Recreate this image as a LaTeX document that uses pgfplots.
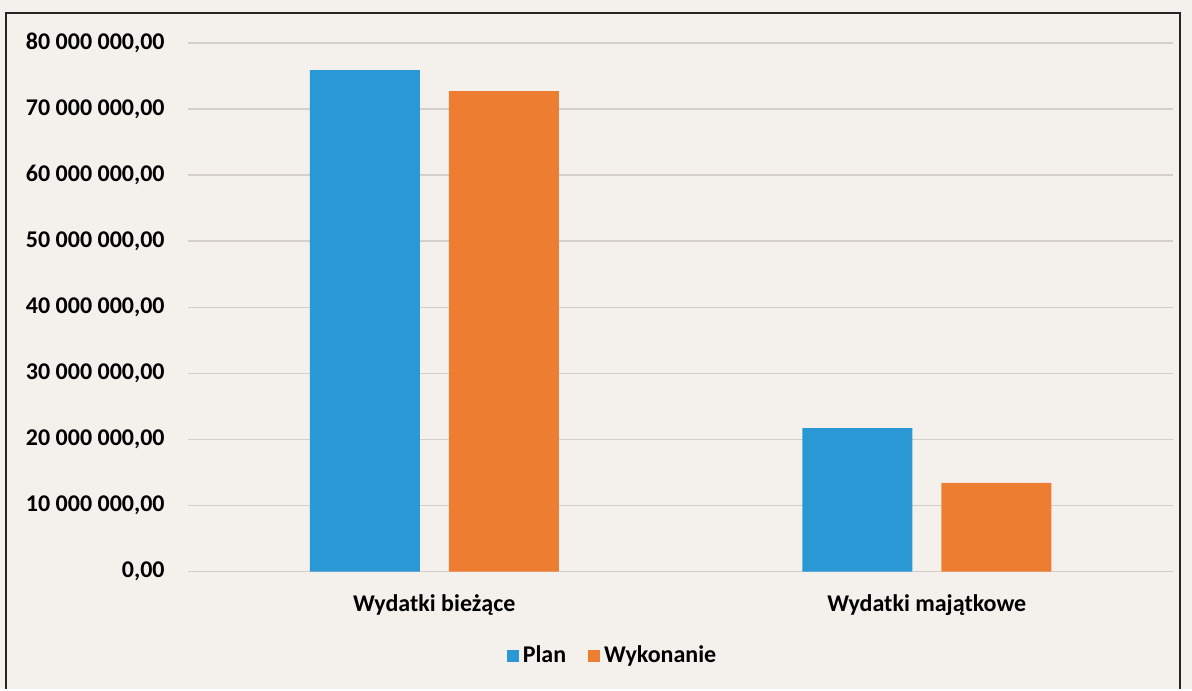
\documentclass[border=0pt]{standalone}
\usepackage{fontspec}
\setmainfont{Carlito}
\usepackage{pgfplots}
\pgfplotsset{compat=1.18}
\definecolor{cPlan}{RGB}{41,152,213}
\definecolor{cWyk}{RGB}{237,125,49}
\definecolor{paper}{RGB}{244,241,237}
\definecolor{gridc}{RGB}{212,207,202}
\pgfplotsset{
  sqlegend/.style={legend image code/.code={\fill[##1,draw=none] (0pt,-3pt) rectangle (6pt,3pt);}},
}
\begin{document}
\begin{tikzpicture}
\fill[paper] (-94pt,-58.75pt) rectangle (502pt,285.75pt);
\begin{axis}[
  at={(0pt,0pt)}, anchor=south west,
  scale only axis, width=492.5pt, height=264.25pt,
  ybar=14.5pt, bar width=55pt,
  xmin=-0.5, xmax=1.5, ymin=0, ymax=80000000,
  xtick={0,1}, xticklabels={Wydatki bieżące, Wydatki majątkowe},
  ytick={0,10000000,20000000,30000000,40000000,50000000,60000000,70000000,80000000},
  yticklabels={{0,00},{10 000 000,00},{20 000 000,00},{30 000 000,00},{40 000 000,00},{50 000 000,00},{60 000 000,00},{70 000 000,00},{80 000 000,00}},
  scaled y ticks=false,
  axis line style={draw=none}, major tick length=0pt,
  ymajorgrids, grid style={gridc, line width=0.7pt},
  yticklabel style={font=\fontsize{12}{14}\selectfont\bfseries, anchor=east, inner sep=0pt, xshift=-11.5pt},
  xticklabel style={font=\fontsize{12}{14}\selectfont\bfseries, anchor=base, inner sep=0pt, yshift=-19.75pt},
  legend style={at={(0.432,-0.159)}, anchor=center, draw=none, fill=none,
    legend columns=2, font=\fontsize{12}{14}\selectfont\bfseries,
    /tikz/every even column/.append style={column sep=9pt}},
]
\addplot[fill=cPlan, draw=none, sqlegend] coordinates {(0,75900000) (1,21700000)};
\addplot[fill=cWyk, draw=none, sqlegend] coordinates {(0,72700000) (1,13400000)};
\legend{Plan, Wykonanie}
\end{axis}
\draw[black!85, line width=1pt] (-91pt,-58.75pt) -- (-91pt,279.25pt) -- (496pt,279.25pt) -- (496pt,-58.75pt);
\end{tikzpicture}
\end{document}
